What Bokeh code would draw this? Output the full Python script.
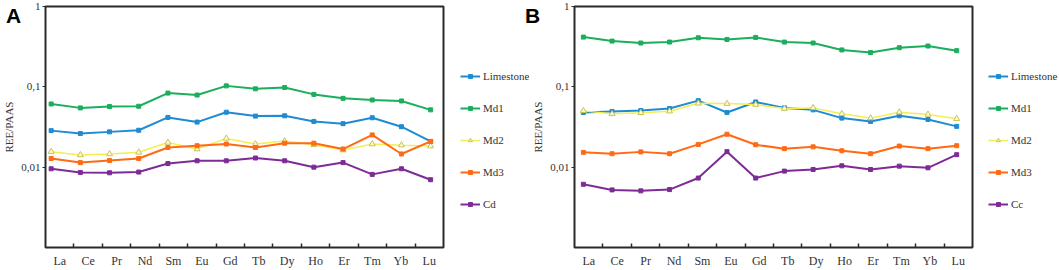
from bokeh.plotting import figure
from bokeh.models import FixedTicker, Legend, LegendItem, Range1d, Div
from bokeh.layouts import row, column
from bokeh.embed import file_html
from bokeh.resources import INLINE

elements = ["La", "Ce", "Pr", "Nd", "Sm", "Eu", "Gd", "Tb", "Dy", "Ho", "Er", "Tm", "Yb", "Lu"]

# Panel A
a_limestone = [0.0285, 0.0262, 0.0275, 0.0288, 0.0416, 0.0364, 0.0483, 0.0432, 0.0436, 0.0371, 0.0348, 0.0412, 0.0319, 0.0209]
a_md1 = [0.0612, 0.0547, 0.0568, 0.0573, 0.0836, 0.0790, 0.1028, 0.0944, 0.0980, 0.0805, 0.0719, 0.0686, 0.0667, 0.0517]
a_md2 = [0.0156, 0.0142, 0.0146, 0.0153, 0.0203, 0.0168, 0.0228, 0.0194, 0.0211, 0.0190, 0.0163, 0.0194, 0.0188, 0.0183]
a_md3 = [0.0128, 0.0114, 0.0121, 0.0128, 0.0176, 0.0185, 0.0194, 0.0176, 0.0199, 0.0199, 0.0168, 0.0252, 0.0146, 0.0209]
a_cd = [0.00955, 0.00860, 0.00851, 0.00869, 0.0111, 0.0120, 0.0120, 0.0130, 0.0120, 0.0100, 0.0114, 0.00813, 0.00955, 0.00698]

# Panel B
b_limestone = [0.0479, 0.0493, 0.0507, 0.0537, 0.0673, 0.0479, 0.0648, 0.0547, 0.0517, 0.0408, 0.0371, 0.0436, 0.0393, 0.0322]
b_md1 = [0.416, 0.371, 0.351, 0.361, 0.408, 0.389, 0.412, 0.361, 0.351, 0.288, 0.267, 0.307, 0.322, 0.282]
b_md2 = [0.0502, 0.0461, 0.0475, 0.0497, 0.0624, 0.0618, 0.0601, 0.0537, 0.0547, 0.0461, 0.0408, 0.0483, 0.0453, 0.0400]
b_md3 = [0.0153, 0.0147, 0.0155, 0.0147, 0.0192, 0.0257, 0.0190, 0.0170, 0.0179, 0.0160, 0.0147, 0.0183, 0.0170, 0.0185]
b_cc = [0.00612, 0.00521, 0.00507, 0.00526, 0.00732, 0.0156, 0.00732, 0.00893, 0.00936, 0.0104, 0.00936, 0.0103, 0.00981, 0.0143]

y_ticks = [0.01, 0.1, 1]
y_tick_labels = ["0,01", "0,1", "1"]

COLORS = {
    "Limestone": "#1f8bd2",
    "Md1": "#1bae5c",
    "Md2": "#f4ee50",
    "Md3": "#ff6a14",
    "Cd": "#7d2c96",
    "Cc": "#7d2c96",
}

SERIF = "'Liberation Serif', serif"
TXT = "#333333"
FRAME = "#2a2a2a"
TOP = 6
BOTTOM = 21
H = 270


def draw_series(p, name, xs, vals):
    c = COLORS[name]
    if name == "Md2":
        ln = p.line(xs, vals, line_color=c, line_width=1.5)
        mk = p.scatter(xs, vals, marker="triangle", size=6, fill_color="#fffbd0",
                       line_color="#c9c25a", line_width=1)
    else:
        ln = p.line(xs, vals, line_color=c, line_width=2)
        mk = p.scatter(xs, vals, marker="square", size=4, fill_color=c, line_color=c)
    return ln, mk


def make_panel(series, width, border_left, frame_w, pts_first_px, pts_last_px):
    n = len(elements)
    ppu = (pts_last_px - pts_first_px) / (n - 1)
    start = -(pts_first_px - border_left) / ppu
    end = start + frame_w / ppu
    cat_w = frame_w / n
    tick_pos = [start + cat_w * k / ppu for k in range(1, n)]
    label_pos = [start + cat_w * (k + 0.5) / ppu for k in range(n)]

    p = figure(width=width, height=H, y_axis_type="log",
               x_range=Range1d(start, end), y_range=Range1d(0.001, 1),
               output_backend="svg", toolbar_location=None,
               min_border_left=border_left, min_border_right=width - border_left - frame_w,
               min_border_top=TOP, min_border_bottom=BOTTOM)
    p.background_fill_color = "white"
    p.border_fill_color = "white"
    p.grid.visible = False
    p.outline_line_color = FRAME
    p.outline_line_width = 2
    p.outline_line_alpha = 1

    xa = p.xaxis[0]
    xa.ticker = FixedTicker(ticks=label_pos, minor_ticks=tick_pos)
    xa.major_label_overrides = {pos: lab for pos, lab in zip(label_pos, elements)}
    xa.major_tick_in = 0
    xa.major_tick_out = 0
    xa.minor_tick_in = 4
    xa.minor_tick_out = 0
    xa.minor_tick_line_color = FRAME
    xa.minor_tick_line_width = 1.5
    xa.axis_line_color = None
    xa.major_label_text_font = SERIF
    xa.major_label_text_font_size = "12px"
    xa.major_label_text_color = TXT
    xa.major_label_standoff = 6

    ya = p.yaxis[0]
    ya.ticker = FixedTicker(ticks=y_ticks, minor_ticks=[])
    ya.major_label_overrides = {v: s for v, s in zip(y_ticks, y_tick_labels)}
    ya.major_tick_in = 0
    ya.major_tick_out = 3
    ya.major_tick_line_color = FRAME
    ya.axis_line_color = None
    ya.major_label_text_font = SERIF
    ya.major_label_text_font_size = "11px"
    ya.major_label_text_color = TXT
    ya.major_label_standoff = 2
    ya.axis_label = "REE/PAAS"
    ya.axis_label_text_font = SERIF
    ya.axis_label_text_font_size = "11px"
    ya.axis_label_text_font_style = "normal"
    ya.axis_label_text_color = TXT
    ya.axis_label_standoff = 3

    xs = list(range(n))
    for name, vals in series:
        draw_series(p, name, xs, vals)
    return p


def make_legend(series, width, x_off):
    # The series are drawn outside this small plot's ranges: only the legend shows.
    q = figure(width=width, height=H, output_backend="svg", toolbar_location=None,
               x_axis_location=None, y_axis_location=None,
               x_range=Range1d(-100, -99), y_range=Range1d(0.001, 1),
               min_border_left=0, min_border_right=0, min_border_top=0, min_border_bottom=0)
    q.grid.visible = False
    q.outline_line_color = None
    q.background_fill_color = "white"
    q.border_fill_color = "white"
    items = []
    xs = list(range(len(elements)))
    for name, vals in series:
        ln, mk = draw_series(q, name, xs, vals)
        items.append(LegendItem(label=name, renderers=[ln, mk]))
    legend = Legend(items=items, location=(x_off, 37), orientation="vertical",
                    glyph_width=20, glyph_height=10, label_height=10, label_width=40,
                    spacing=20, padding=0, margin=0, label_standoff=3,
                    label_text_font=SERIF, label_text_font_size="11px",
                    label_text_color=TXT, border_line_color=None,
                    background_fill_alpha=0)
    q.add_layout(legend)
    return q


series_a = [("Limestone", a_limestone), ("Md1", a_md1), ("Md2", a_md2), ("Md3", a_md3), ("Cd", a_cd)]
series_b = [("Limestone", b_limestone), ("Md1", b_md1), ("Md2", b_md2), ("Md3", b_md3), ("Cc", b_cc)]

pa = make_panel(series_a, 445, 41, 402, 46.7, 430.0)
la = make_legend(series_a, 84, 15)
pb = make_panel(series_b, 445, 40, 403, 49.0, 427.0)
lb = make_legend(series_b, 85, 14)


def letter(txt, left):
    return Div(text=txt, width=24, height=24,
               styles={"position": "absolute", "left": f"{left}px", "top": "0px",
                       "font-family": "'Liberation Sans', Arial, sans-serif",
                       "font-weight": "bold", "font-size": "21px",
                       "line-height": "21px", "color": "#000000", "z-index": "10"})


layout = column(row(pa, la, pb, lb, spacing=0), letter("A", 1), letter("B", 520), spacing=0)
open("out.html", "w").write(file_html(layout, INLINE))
